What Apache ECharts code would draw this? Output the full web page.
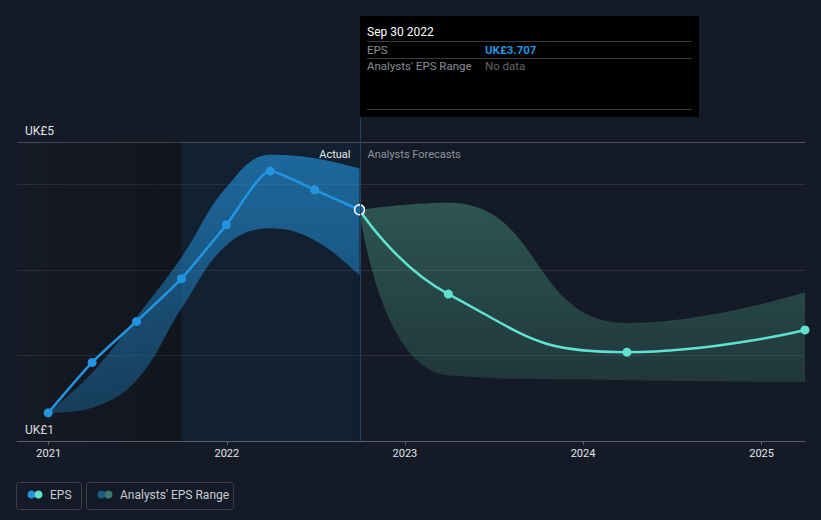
<!DOCTYPE html>
<html><head><meta charset="utf-8">
<script src="https://cdn.jsdelivr.net/npm/echarts@6/dist/echarts.min.js"></script>
<style>html,body{margin:0;padding:0;background:#151b26;}#c{width:821px;height:520px;}</style>
</head><body><div id="c"></div>
<script>
// ---- data ----
const pastDates = ['2020-12-31','2021-03-31','2021-06-30','2021-09-30','2021-12-31','2022-03-31','2022-06-30','2022-09-30'];
const pastEps   = [1.33, 1.92, 2.40, 2.90, 3.53, 4.16, 3.94, 3.707];
const pastLow   = [1.33, 1.39, 1.71, 2.55, 3.29, 3.49, 3.35, 2.94];
const pastHigh  = [1.33, 1.80, 2.45, 3.15, 3.97, 4.35, 4.31, 4.19];
const fcDates   = ['2022-09-30','2023-03-31','2024-03-31','2025-03-31'];
const fcEps     = [3.707, 2.72, 2.04, 2.30];
const fcLow     = [3.707, 1.77, 1.71, 1.69];
const fcHigh    = [3.707, 3.79, 2.38, 2.74];
const xRange    = ['2020-10-28', '2025-03-31'];
const yearTicks = ['2021-01-01','2022-01-01','2023-01-01','2024-01-01','2025-01-01'];
const yRange    = [1, 4.5];
const yLabels   = ['UK£1', 'UK£5'];
const highlightStart = '2021-09-30';
const dividerDate = '2022-09-30';
const sectionLabels = ['Actual', 'Analysts Forecasts'];
const tipTitle = 'Sep 30 2022';
const tipRows = [['EPS', 'UK£3.707'], ["Analysts' EPS Range", 'No data']];
const legendNames = ['EPS', "Analysts' EPS Range"];

// ---- chart ----
const FONT = 'Roboto, "Open Sans", sans-serif';
const ts = d => new Date(d + 'T00:00:00Z').getTime();
const pair = (d, v) => d.map((x, i) => [ts(x), v[i]]);
const diff = (a, b) => a.map((v, i) => +(v - b[i]).toFixed(4));
const BLUE = '#2394df', TEAL = '#5fe3cf';
const chart = echarts.init(document.getElementById('c'), null, {renderer: 'svg'});

const lastIdx = pastEps.length - 1;
const pastEpsData = pair(pastDates, pastEps).map((p, i) => i === lastIdx
  ? {value: p, symbolSize: 10, itemStyle: {color: '#1d6aa1', borderColor: '#ffffff', borderWidth: 1.5}}
  : {value: p});
const fcEpsData = pair(fcDates, fcEps).map((p, i) => i === 0 ? {value: p, symbolSize: 0} : {value: p});

chart.setOption({
  backgroundColor: '#151b26',
  animation: false,
  grid: {left: 17, right: 16, top: 142, bottom: 79},
  xAxis: [{
    type: 'time', min: ts(xRange[0]), max: ts(xRange[1]), position: 'bottom',
    axisLine: {show: false, onZero: false}, axisTick: {show: false}, axisLabel: {show: false}, splitLine: {show: false}
  }, {
    type: 'value', min: ts(xRange[0]), max: ts(xRange[1]), position: 'bottom',
    axisLine: {show: true, onZero: false, lineStyle: {color: '#5a5f68', width: 1}},
    axisTick: {show: true, customValues: yearTicks.map(ts), length: 4, lineStyle: {color: '#5a5f68'}},
    axisLabel: {customValues: yearTicks.map(ts), formatter: v => String(new Date(v).getUTCFullYear()),
      color: '#e2e4e8', fontSize: 11, fontFamily: FONT, margin: 7},
    splitLine: {show: false}
  }],
  yAxis: {
    type: 'value', min: yRange[0], max: yRange[1], interval: 1,
    axisLine: {show: false}, axisTick: {show: false},
    axisLabel: {inside: true, margin: 8, verticalAlign: 'bottom', padding: [0, 0, 5, 0],
      color: '#e2e4e8', fontSize: 12, fontFamily: FONT,
      formatter: v => v === yRange[0] ? yLabels[0] : (v === yRange[1] ? yLabels[1] : '')},
    splitLine: {show: true, lineStyle: {color: ['#2a2f38', '#2a2f38', '#2a2f38', '#2a2f38', '#4b5059'], width: 1}}
  },
  series: [
    {type: 'line', xAxisIndex: 0, data: pair(pastDates, pastLow), stack: 'past', smooth: 0.4,
     symbol: 'none', lineStyle: {width: 0, opacity: 0}, silent: true, z: 1,
     markArea: {silent: true, data: [
       [{xAxis: ts(xRange[0]), itemStyle: {color: new echarts.graphic.LinearGradient(0, 0, 1, 0, [
          {offset: 0, color: 'rgba(0,0,0,0.03)'}, {offset: 1, color: 'rgba(0,0,0,0.22)'}])}}, {xAxis: ts(highlightStart)}],
       [{xAxis: ts(highlightStart), itemStyle: {color: 'rgba(0,77,118,0.12)'}}, {xAxis: ts(dividerDate)}]
     ]}},
    {type: 'line', xAxisIndex: 0, data: pair(pastDates, diff(pastHigh, pastLow)), stack: 'past', smooth: 0.4,
     symbol: 'none', lineStyle: {width: 0, opacity: 0}, silent: true, z: 2,
     areaStyle: {opacity: 1, color: new echarts.graphic.LinearGradient(0, 0, 0, 1, [
       {offset: 0, color: 'rgba(35,148,223,0.62)'}, {offset: 1, color: 'rgba(35,148,223,0.3)'}])}},
    {type: 'line', xAxisIndex: 0, data: pair(fcDates, fcLow), stack: 'fc', smooth: 0.5,
     symbol: 'none', lineStyle: {width: 0, opacity: 0}, silent: true, z: 1},
    {type: 'line', xAxisIndex: 0, data: pair(fcDates, diff(fcHigh, fcLow)), stack: 'fc', smooth: 0.5,
     symbol: 'none', lineStyle: {width: 0, opacity: 0}, silent: true, z: 2,
     areaStyle: {opacity: 1, color: new echarts.graphic.LinearGradient(0, 0, 0, 1, [
       {offset: 0, color: 'rgba(69,143,126,0.5)'}, {offset: 1, color: 'rgba(69,143,126,0.24)'}])}},
    {type: 'line', xAxisIndex: 0, name: 'EPS forecast', data: fcEpsData, smooth: 0.5,
     symbol: 'circle', symbolSize: 9, itemStyle: {color: TEAL}, lineStyle: {color: TEAL, width: 2.5}, z: 3},
    {type: 'line', xAxisIndex: 0, name: 'EPS', data: pastEpsData, smooth: 0.2,
     symbol: 'circle', symbolSize: 9, itemStyle: {color: BLUE}, lineStyle: {color: BLUE, width: 2.5}, z: 4}
  ]
});

// ---- overlay: divider, section labels, tooltip, legend ----
const xDiv = Math.round(chart.convertToPixel({xAxisIndex: 0}, ts(dividerDate))) + 0.5;
const yBottom = chart.convertToPixel({yAxisIndex: 0}, yRange[0]);
const yTop = chart.convertToPixel({yAxisIndex: 0}, yRange[1]);
const tipX = xDiv - 0.5, tipY = 16, tipW = 339, tipH = 101;
const txt = (x, y, s, color, size, extra) => Object.assign({type: 'text', x, y, silent: true,
  style: Object.assign({text: s, fill: color, fontSize: size, fontFamily: FONT, verticalAlign: 'middle'}, extra || {})});
const hline = (x1, x2, y, color) => ({type: 'line', silent: true, shape: {x1, y1: y, x2, y2: y}, style: {stroke: color, lineWidth: 1}});

const g = [
  {type: 'line', silent: true, z: 5, shape: {x1: xDiv, y1: tipY, x2: xDiv, y2: yBottom}, style: {stroke: '#2a3f55', lineWidth: 1}},
  txt(xDiv - 10, yTop + 12, sectionLabels[0], '#ffffff', 11, {align: 'right'}),
  txt(xDiv + 7, yTop + 12, sectionLabels[1], '#8e939b', 11),
  {type: 'rect', silent: true, z: 10, shape: {x: tipX, y: tipY, width: tipW, height: tipH}, style: {fill: '#000000'}},
  Object.assign(txt(tipX + 7, 31.5, tipTitle, '#ffffff', 12), {z: 11}),
  Object.assign(hline(tipX + 7, tipX + 332, 41.5, '#3a3d42'), {z: 11}),
  Object.assign(txt(tipX + 7, 49.5, tipRows[0][0], '#8a8d92', 11.5), {z: 11}),
  Object.assign(txt(tipX + 125, 49.5, tipRows[0][1], BLUE, 11.5, {fontWeight: 'bold'}), {z: 11}),
  Object.assign(hline(tipX + 7, tipX + 332, 58.5, '#3a3d42'), {z: 11}),
  Object.assign(txt(tipX + 7, 66, tipRows[1][0], '#8a8d92', 11.5), {z: 11}),
  Object.assign(txt(tipX + 125, 66, tipRows[1][1], '#63666b', 11.5), {z: 11}),
  Object.assign(hline(tipX + 7, tipX + 332, 109.5, '#3a3d42'), {z: 11}),
  // legend
  {type: 'rect', silent: true, shape: {x: 16.5, y: 482.5, width: 65, height: 27, r: 3}, style: {fill: 'none', stroke: '#3b4049', lineWidth: 1}},
  {type: 'circle', silent: true, shape: {cx: 31.5, cy: 494.5, r: 4}, style: {fill: BLUE}},
  {type: 'circle', silent: true, shape: {cx: 38.5, cy: 494.5, r: 4}, style: {fill: TEAL}},
  txt(50, 495, legendNames[0], '#c9ccd1', 12),
  {type: 'rect', silent: true, shape: {x: 86.5, y: 482.5, width: 147, height: 27, r: 3}, style: {fill: 'none', stroke: '#3b4049', lineWidth: 1}},
  {type: 'circle', silent: true, shape: {cx: 101.5, cy: 494.5, r: 4}, style: {fill: '#1d5a88'}},
  {type: 'circle', silent: true, shape: {cx: 108.5, cy: 494.5, r: 4}, style: {fill: '#3b7a72'}},
  txt(120, 495, legendNames[1], '#c9ccd1', 12)
];
chart.setOption({graphic: g});
</script></body></html>
